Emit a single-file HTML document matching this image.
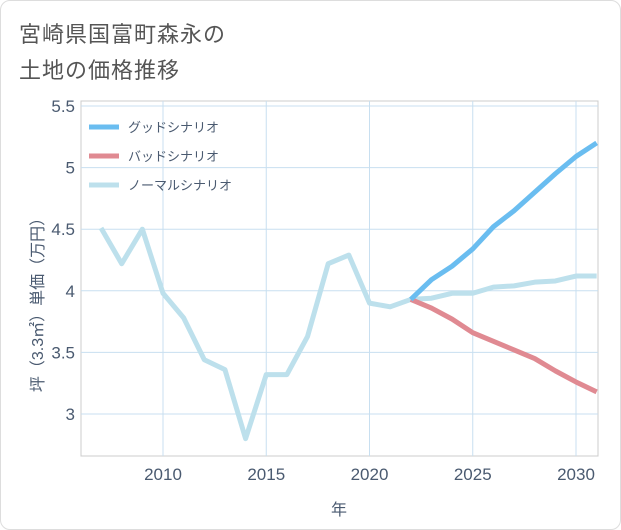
<!DOCTYPE html>
<html><head><meta charset="utf-8">
<style>
body{margin:0;background:#fff;font-family:"Liberation Sans","Noto Sans CJK JP",sans-serif;}
#wrap{position:relative;width:619px;height:528px;border:1px solid #ddd;border-radius:10px;background:#fff;overflow:hidden;}
.title{position:absolute;left:18px;font-size:22px;color:#555;letter-spacing:1px;}
</style></head><body>
<div id="wrap">
<div class="title" style="top:16px">宮崎県国富町森永の</div>
<div class="title" style="top:52px">土地の価格推移</div>
<svg id="chart" width="621" height="530" style="position:absolute;left:0;top:0"></svg>
</div>
<script>
const years=[2007,2008,2009,2010,2011,2012,2013,2014,2015,2016,2017,2018,2019,2020,2021,2022,2023,2024,2025,2026,2027,2028,2029,2030,2031];
const normal=[4.51,4.22,4.50,3.98,3.78,3.44,3.36,2.80,3.32,3.32,3.63,4.22,4.29,3.90,3.87,3.93,3.94,3.98,3.98,4.03,4.04,4.07,4.08,4.12,4.12];
const fYears=[2022,2023,2024,2025,2026,2027,2028,2029,2030,2031];
const good=[3.93,4.09,4.20,4.34,4.52,4.65,4.80,4.95,5.09,5.20];
const bad=[3.93,3.86,3.77,3.66,3.59,3.52,3.45,3.35,3.26,3.18];
const xTicks=[2010,2015,2020,2025,2030];
const yTicks=[3,3.5,4,4.5,5,5.5];
const yLabels=["3","3.5","4","4.5","5","5.5"];
const L=80,R=597,T=100,B=455;
const x=v=>162+(v-2010)*20.65;
const y=v=>413-(v-3)*123.2;
const svg=document.getElementById('chart');
const NS='http://www.w3.org/2000/svg';
function mk(t,a){const e=document.createElementNS(NS,t);for(const k in a)e.setAttribute(k,a[k]);svg.appendChild(e);return e;}
let e=mk('rect',{x:L,y:T,width:R-L,height:B-T,fill:'#fff',stroke:'#ccc'});


xTicks.forEach(v=>{
 let g=mk('line',{x1:x(v),x2:x(v),y1:T,y2:B,stroke:'#c8dff0'});
 
 
 let t=mk('text',{x:x(v),y:479,'text-anchor':'middle','font-size':17,fill:'#4a5a70'});t.textContent=v;
 
 
});
yTicks.forEach((v,i)=>{
 let g=mk('line',{x1:L,x2:R,y1:y(v),y2:y(v),stroke:'#c8dff0'});
 
 
 let t=mk('text',{x:74,y:y(v)+6,'text-anchor':'end','font-size':17,fill:'#4a5a70'});t.textContent=yLabels[i];
 
 
});
function line(xs,ys,c,n){
 const p=mk('polyline',{points:xs.map((v,i)=>x(v)+','+y(ys[i])).join(' '),fill:'none',stroke:c,'stroke-width':5,'stroke-linejoin':'round'});
 
 
}
line(years,normal,'#bde0ec','normal-scenario-line');
line(fYears,bad,'#e08a92','bad-scenario-line');
line(fYears,good,'#6abdf0','good-scenario-line');
const legend=[['グッドシナリオ','#6abdf0',126],['バッドシナリオ','#e08a92',155],['ノーマルシナリオ','#bde0ec',184]];
legend.forEach(l=>{
 let s=mk('line',{x1:88,x2:118,y1:l[2],y2:l[2],stroke:l[1],'stroke-width':5});
 
 
 let t=mk('text',{x:127,y:l[2]+5,'font-size':13,fill:'#4a5a70'});t.textContent=l[0];
 
 
});
let xt=mk('text',{x:338,y:514,'text-anchor':'middle','font-size':16,fill:'#4a5a70'});xt.textContent='年';


let yt=mk('text',{x:0,y:0,'text-anchor':'middle','font-size':16,fill:'#4a5a70',transform:'translate(42,300) rotate(-90)'});yt.textContent='坪（3.3㎡）単価（万円）';


</script>
</body></html>
